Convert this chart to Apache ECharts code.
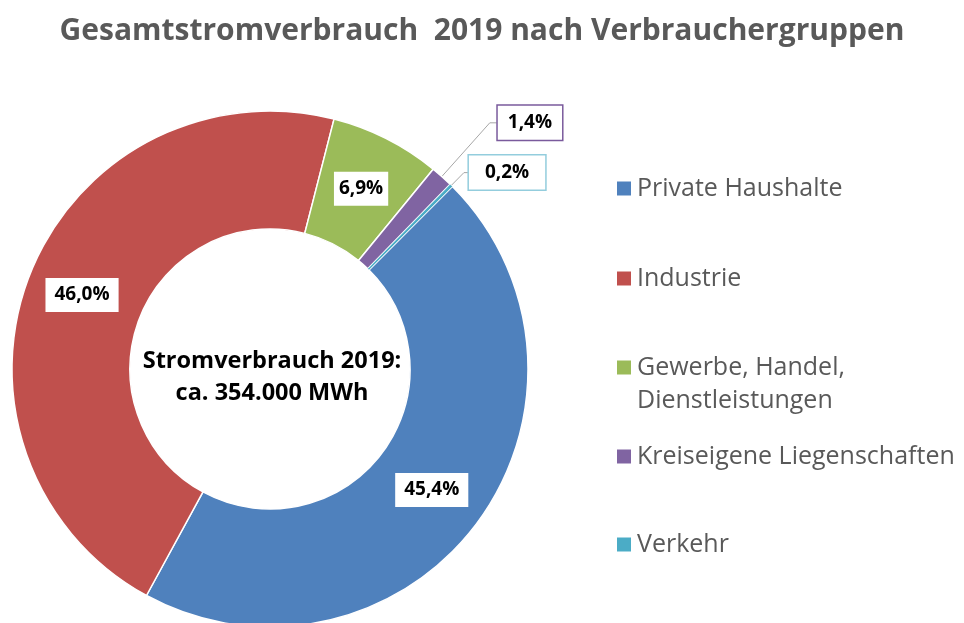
<!DOCTYPE html>
<html>
<head>
<meta charset="utf-8">
<script src="https://cdn.jsdelivr.net/npm/echarts@6/dist/echarts.min.js"></script>
<style>
  html, body { margin: 0; padding: 0; background: #fff; }
  #chart { width: 964px; height: 623px; }
</style>
</head>
<body>
<div id="chart"></div>
<script>
// Verbrauchergruppen und Anteile (%)
var categories = ['Private Haushalte', 'Industrie', 'Gewerbe, Handel, Dienstleistungen', 'Kreiseigene Liegenschaften', 'Verkehr'];
var shares = [45.4, 46.0, 6.9, 1.4, 0.2];
var colors = ['#4F81BD', '#C0504D', '#9BBB59', '#8064A2', '#4BACC6'];
var centerLines = ['Stromverbrauch 2019:', 'ca. 354.000 MWh'];

var FONT = '"Open Sans", "Noto Sans", sans-serif';

function fmt(v) {
    return v.toFixed(1).replace('.', ',') + '%';
}

var data = [];
for (var i = 0; i < categories.length; i++) {
    data.push({ name: categories[i], value: shares[i], itemStyle: { color: colors[i] } });
}
data[2].label = { padding: [8, 5, 7, 5] };
// kleine Segmente: Beschriftung außen mit Box
data[3].label = {
    position: 'outside', distanceToLabelLine: 1,
    borderColor: '#7a5a9c', borderWidth: 1.5, padding: [8, 10, 7, 10]
};
data[3].labelLine = { show: true, length: 72, length2: 7 };
data[4].label = {
    position: 'outside', distanceToLabelLine: 1,
    borderColor: '#93cddd', borderWidth: 1.5, padding: [8, 16, 7, 16]
};
data[4].labelLine = { show: true, length: 18, length2: 4 };
data[4].itemStyle.borderWidth = 0.5;

// Legende: jeder Eintrag einzeln platziert
var legendTops = [172, 262, 318, 440, 528];
var legends = [];
for (var j = 0; j < categories.length; j++) {
    var lg = {
        orient: 'vertical',
        left: 615,
        top: legendTops[j],
        padding: 0,
        itemWidth: 16,
        itemHeight: 16,
        icon: 'rect',
        selectedMode: false,
        data: [categories[j]],
        textStyle: { color: '#595959', fontSize: 25, fontFamily: FONT, lineHeight: 33 }
    };
    if (j === 2) {
        // leere erste Zeile, damit das Symbol auf Höhe der ersten Textzeile steht
        lg.formatter = function (n) { return '\n' + n.replace('Handel, ', 'Handel,\n'); };
    }
    legends.push(lg);
}

var chart = echarts.init(document.getElementById('chart'));
chart.setOption({
    animation: false,
    title: {
        text: 'Gesamtstromverbrauch  2019 nach Verbrauchergruppen',
        left: 'center',
        top: 11,
        textStyle: { color: '#595959', fontSize: 30, fontWeight: 'bold', fontFamily: FONT }
    },
    legend: legends,
    graphic: [{
        type: 'text',
        x: 272,
        y: 377,
        style: {
            text: centerLines.join('\n'),
            fill: '#000',
            font: 'bold 23.5px ' + FONT,
            lineHeight: 32,
            align: 'center',
            verticalAlign: 'middle'
        }
    }],
    series: [{
        type: 'pie',
        center: [270, 369],
        radius: [140, 258],
        startAngle: 45,
        clockwise: true,
        avoidLabelOverlap: false,
        itemStyle: { borderColor: '#fff', borderWidth: 1.5 },
        label: {
            show: true,
            position: 'inside',
            formatter: function (p) { return fmt(p.value); },
            color: '#000',
            fontSize: 19,
            fontWeight: 'bold',
            fontFamily: FONT,
            backgroundColor: '#fff',
            padding: [8, 9, 7, 9]
        },
        labelLine: { show: false, lineStyle: { color: '#a6a6a6', width: 1 } },
        labelLayout: function (params) {
            // Führungslinie des violetten Segments beginnt in der Ringmitte
            if (params.dataIndex !== 3 || !params.labelLinePoints) return {};
            var pts = params.labelLinePoints;
            var dx = pts[0][0] - pts[1][0], dy = pts[0][1] - pts[1][1];
            var len = Math.sqrt(dx * dx + dy * dy) || 1;
            var ext = 58;
            var start = [pts[0][0] + dx / len * ext, pts[0][1] + dy / len * ext];
            return { labelLinePoints: [start, pts[1], pts[2]] };
        },
        emphasis: { disabled: true },
        data: data
    }]
});
</script>
</body>
</html>
